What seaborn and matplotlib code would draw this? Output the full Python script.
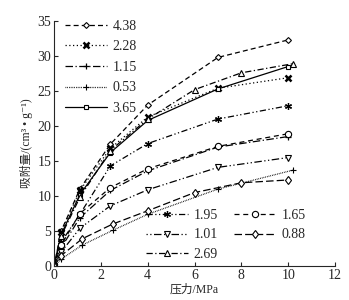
import matplotlib
matplotlib.use("Agg")
import matplotlib.pyplot as plt
import seaborn as sns
import pandas as pd

sns.set_style("ticks")
plt.rcParams['font.family'] = ['Liberation Serif', 'Noto Sans CJK SC', 'DejaVu Sans']

# adsorption data, pressure (MPa) vs adsorbed volume (cm3/g)
p_std = [0, 0.3, 1.1, 2.4, 4, 7, 10]
p_269 = [0, 0.3, 1.1, 2.4, 4, 6, 8, 10.2]
p_088 = [0, 0.3, 1.2, 2.5, 4, 6, 8, 10]
p_053 = [0, 0.3, 1.2, 2.5, 4, 7, 10.2]

v_438 = [0, 5.0, 11.0, 17.4, 23.0, 29.8, 32.3]
v_228 = [0, 4.8, 10.8, 16.8, 21.3, 25.4, 26.9]
v_115 = [0, 2.6, 6.9, 10.8, 13.6, 17.0, 18.5]
v_053 = [0, 1.0, 3.0, 5.1, 7.4, 11.0, 13.7]
v_365 = [0, 4.5, 10.2, 16.2, 20.8, 25.3, 28.5]
v_195 = [0, 3.4, 7.4, 14.3, 17.5, 21.0, 22.9]
v_165 = [0, 3.0, 7.5, 11.2, 13.9, 17.1, 18.9]
v_101 = [0, 2.0, 5.4, 8.6, 10.9, 14.1, 15.5]
v_088 = [0, 1.5, 3.9, 6.0, 7.9, 10.5, 11.9, 12.3]
v_269 = [0, 4.3, 9.8, 16.5, 21.0, 25.2, 27.6, 28.9]

series_top = [
    ("4.38", p_std, v_438, (0, (4, 2.5)), "D", 3, 0.8),
    ("2.28", p_std, v_228, (0, (1, 2)), "x", 4.5, 1.8),
    ("1.15", p_std, v_115, (0, (6, 2, 1, 2)), "+", 5, 0.9),
    ("0.53", p_053, v_053, (0, (0.6, 0.8)), "+", 4, 0.8),
    ("3.65", p_std, v_365, "-", "s", 3.5, 0.8),
]
series_bot = [
    ("1.95", p_std, v_195, (0, (5, 2, 1, 2, 1, 2)), (6, 2, 0), 5, 0.9),
    ("1.01", p_std, v_101, (0, (1, 2, 1, 2, 6, 2)), "v", 4, 0.8),
    ("2.69", p_269, v_269, (0, (5, 2, 1, 2)), "^", 4, 0.8),
    ("1.65", p_std, v_165, (0, (4, 3)), "o", 4.5, 0.8),
    ("0.88", p_088, v_088, (0, (6, 2.5)), "d", 4.5, 0.8),
]

fig = plt.figure(figsize=(3.49, 3.0), dpi=100)
ax = fig.add_axes([0.155, 0.113, 0.805, 0.817])

handles = {}
for name, p, v, ls, mk, ms, mew in series_top + series_bot:
    df = pd.DataFrame({"p": p, "v": v})
    sns.lineplot(data=df, x="p", y="v", ax=ax, color="black", linestyle=ls,
                 linewidth=0.9, marker=mk, markersize=ms, markeredgewidth=mew,
                 markerfacecolor="white", markeredgecolor="black", sort=False)
    handles[name] = ax.lines[-1]

ax.set_xlim(0, 12)
ax.set_ylim(0, 35)
ax.set_xticks(range(0, 13, 2))
ax.set_yticks(range(0, 36, 5))
ax.tick_params(direction="in", length=3, width=0.8, labelsize=10, pad=2)
sns.despine(ax=ax)
ax.set_xlabel("压力/MPa", fontsize=8.5, labelpad=1)
ax.set_ylabel("吸附量/(cm³ • g⁻¹)", fontsize=8.5, labelpad=3)

leg1 = ax.legend([handles[s[0]] for s in series_top], [s[0] for s in series_top],
                 loc="upper left", bbox_to_anchor=(0.01, 1.04), frameon=False,
                 fontsize=10, handlelength=3.0, handletextpad=0.4,
                 labelspacing=0.55, borderaxespad=0.2)
ax.add_artist(leg1)
ax.legend([handles[s[0]] for s in series_bot], [s[0] for s in series_bot],
          loc="lower right", bbox_to_anchor=(0.925, -0.012), ncol=2, frameon=False,
          fontsize=10, handlelength=3.0, handletextpad=0.4, labelspacing=0.45,
          columnspacing=1.2, borderaxespad=0.2)

fig.savefig("out.png", dpi=100)
